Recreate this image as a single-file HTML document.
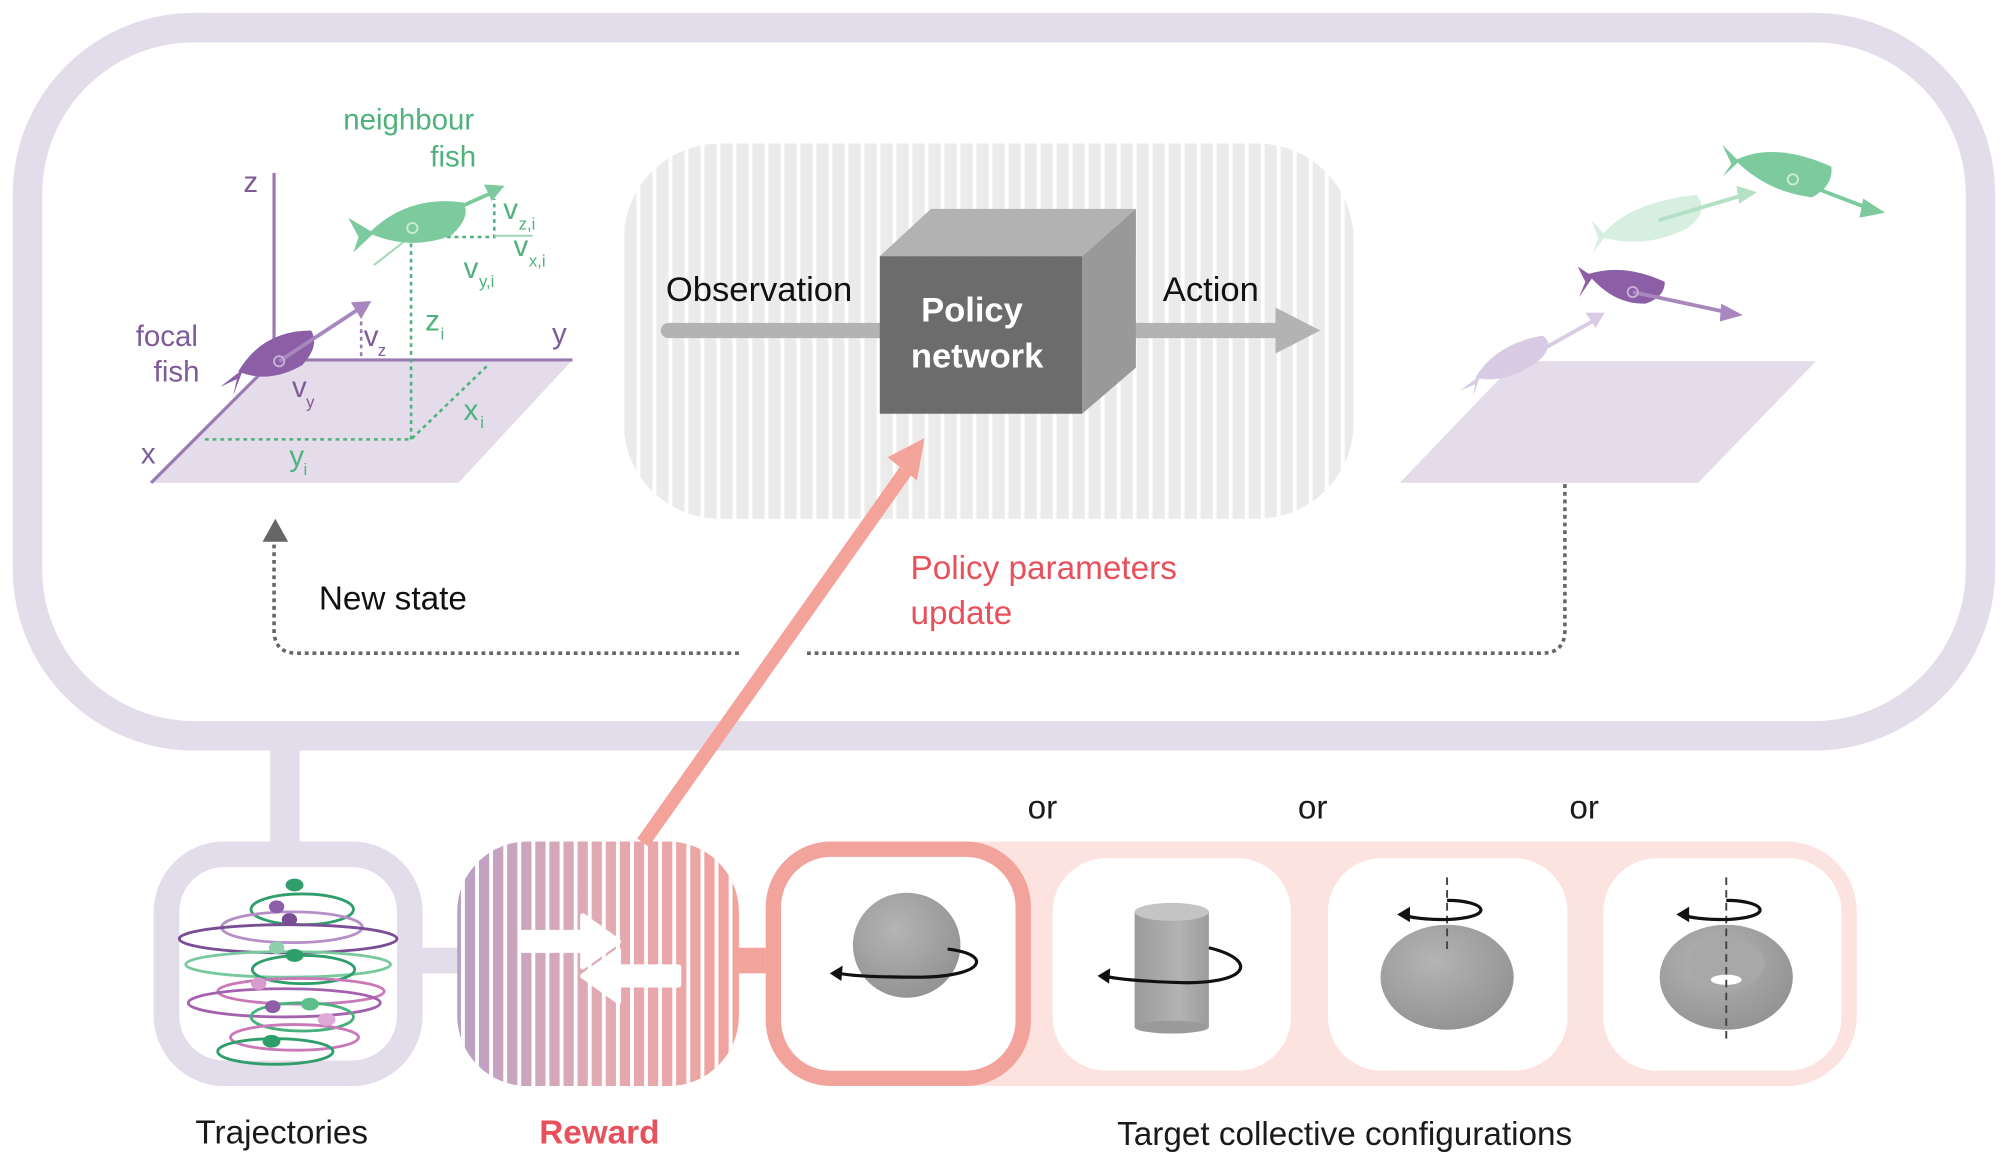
<!DOCTYPE html>
<html><head><meta charset="utf-8"><style>
html,body{margin:0;padding:0;background:#fff;}
svg{display:block;}
text{font-family:"Liberation Sans",sans-serif;}
</style></head><body>
<svg width="2008" height="1163" viewBox="0 0 1568 908" xmlns="http://www.w3.org/2000/svg">
<defs>
  <pattern id="gs" width="12.5" height="10" patternUnits="userSpaceOnUse">
    <rect width="12.5" height="10" fill="#ebebeb"/>
    <rect x="9.5" width="3" height="10" fill="#fff"/>
  </pattern>
  <pattern id="ws" width="11" height="10" patternUnits="userSpaceOnUse">
    <rect x="8" width="3" height="10" fill="#fff"/>
  </pattern>
  <linearGradient id="rg" x1="0" x2="1" y1="0" y2="0">
    <stop offset="0" stop-color="#b9a0c4"/>
    <stop offset="0.5" stop-color="#e1aab3"/>
    <stop offset="1" stop-color="#f2a39d"/>
  </linearGradient>
  <radialGradient id="sg" cx="0.4" cy="0.35" r="0.7">
    <stop offset="0" stop-color="#b4b4b4"/><stop offset="1" stop-color="#929292"/>
  </radialGradient>
  <linearGradient id="cg" x1="0" x2="1">
    <stop offset="0" stop-color="#9a9a9a"/><stop offset="0.6" stop-color="#b3b3b3"/><stop offset="1" stop-color="#9c9c9c"/>
  </linearGradient>
</defs>

<rect x="21.5" y="21.5" width="1525" height="553" rx="130" fill="#fff" stroke="#e3dcea" stroke-width="23"/>
<rect x="211" y="585" width="23" height="75" fill="#e3dcea"/>
<rect x="330" y="740" width="30" height="20" fill="#e3dcea"/>
<rect x="576" y="740" width="26" height="20" fill="#f2a39c"/>

<rect x="130" y="667" width="190" height="171" rx="45" fill="#fff" stroke="#e3dcea" stroke-width="20"/>
<g fill="none" stroke-width="2.2">
  <ellipse cx="236" cy="710" rx="40" ry="12" stroke="#2e9e6b"/>
  <ellipse cx="228" cy="724" rx="55" ry="12" stroke="#b68fc8"/>
  <ellipse cx="225" cy="733" rx="85" ry="11" stroke="#7a4e95"/>
  <ellipse cx="225" cy="753" rx="80" ry="10" stroke="#78c99e"/>
  <ellipse cx="237" cy="757" rx="40" ry="11" stroke="#2e9e6b"/>
  <ellipse cx="235" cy="774" rx="65" ry="10" stroke="#c978b8"/>
  <ellipse cx="222" cy="783" rx="75" ry="11" stroke="#a461ae"/>
  <ellipse cx="236" cy="794" rx="40" ry="11" stroke="#47b07c"/>
  <ellipse cx="230" cy="810" rx="50" ry="10" stroke="#c978b8"/>
  <ellipse cx="215" cy="821" rx="45" ry="10" stroke="#2e9e6b"/>
</g>
<g>
  <ellipse cx="230" cy="691" rx="7" ry="5" fill="#2e9e6b"/>
  <ellipse cx="216" cy="708" rx="6" ry="5" fill="#8b5ea6"/>
  <ellipse cx="226" cy="718" rx="6" ry="5" fill="#7a4e95"/>
  <ellipse cx="216" cy="740" rx="6" ry="5" fill="#8fd0ac"/>
  <ellipse cx="230" cy="746" rx="7" ry="5" fill="#2e9e6b"/>
  <ellipse cx="202" cy="768" rx="6" ry="5" fill="#d79ccd"/>
  <ellipse cx="213" cy="786" rx="6" ry="5" fill="#8b5ea6"/>
  <ellipse cx="242" cy="784" rx="7" ry="5" fill="#5fbf8c"/>
  <ellipse cx="255" cy="796" rx="7" ry="5" fill="#e0a8d6"/>
  <ellipse cx="212" cy="813" rx="7" ry="5" fill="#2e9e6b"/>
</g>

<rect x="357" y="657" width="220" height="191" rx="55" fill="url(#rg)"/>
<rect x="357" y="657" width="220" height="191" rx="55" fill="url(#ws)"/>
<path d="M408,728 H455 V715 L483,735 L455,755 V742 H408 Z" fill="#fff" stroke="#fff" stroke-linejoin="round" stroke-width="4"/>
<path d="M530,755 H483 V742 L455,762 L483,782 V769 H530 Z" fill="#fff" stroke="#fff" stroke-linejoin="round" stroke-width="4"/>

<rect x="598" y="657" width="852" height="191" rx="55" fill="#fde3e0"/>
<rect x="604" y="663" width="195" height="179" rx="45" fill="#fff" stroke="#f2a39c" stroke-width="12"/>
<rect x="822" y="670" width="186" height="166" rx="42" fill="#fff"/>
<rect x="1037" y="670" width="187" height="166" rx="42" fill="#fff"/>
<rect x="1252" y="670" width="186" height="166" rx="42" fill="#fff"/>
<ellipse cx="708" cy="738" rx="42" ry="41" fill="url(#sg)"/>
<path d="M740,741 C775,745 770,762 720,763 C690,763 660,762 652,759" fill="none" stroke="#111" stroke-width="2.5"/>
<path d="M648,760 L658,754 L657,766 Z" fill="#111"/>
<rect x="886" y="712" width="58" height="90" fill="url(#cg)"/>
<ellipse cx="915" cy="712" rx="29" ry="7" fill="#c4c4c4"/>
<ellipse cx="915" cy="802" rx="29" ry="5" fill="#9a9a9a"/>
<path d="M944,740 C985,750 975,770 915,767 C890,766 870,764 862,762" fill="none" stroke="#111" stroke-width="2.5"/>
<path d="M857,762 L867,756 L866,768 Z" fill="#111"/>
<ellipse cx="1130" cy="763" rx="52" ry="41" fill="url(#sg)"/>
<line x1="1130" y1="685" x2="1130" y2="745" stroke="#444" stroke-width="1.5" stroke-dasharray="6,4"/>
<path d="M1130,703 C1160,703 1170,716 1130,718 C1110,718 1100,716 1095,714" fill="none" stroke="#111" stroke-width="2.5"/>
<path d="M1091,714 L1101,708 L1101,720 Z" fill="#111"/>
<ellipse cx="1348" cy="763" rx="52" ry="41" fill="url(#sg)"/>
<ellipse cx="1348" cy="752" rx="30" ry="20" fill="#a8a8a8"/>
<ellipse cx="1348" cy="765" rx="12" ry="4" fill="#fff"/>
<line x1="1348" y1="685" x2="1348" y2="815" stroke="#444" stroke-width="1.5" stroke-dasharray="6,4"/>
<path d="M1348,703 C1378,703 1388,716 1348,718 C1328,718 1318,716 1313,714" fill="none" stroke="#111" stroke-width="2.5"/>
<path d="M1309,714 L1319,708 L1319,720 Z" fill="#111"/>

<g font-size="26" fill="#1a1a1a">
  <text x="814" y="639" text-anchor="middle">or</text>
  <text x="1025" y="639" text-anchor="middle">or</text>
  <text x="1237" y="639" text-anchor="middle">or</text>
  <text x="220" y="893" text-anchor="middle">Trajectories</text>
  <text x="1050" y="894" text-anchor="middle">Target collective configurations</text>
</g>
<text x="468" y="893" text-anchor="middle" font-size="26" font-weight="bold" fill="#e8505b">Reward</text>

<rect x="487" y="112" width="570" height="293" rx="75" fill="url(#gs)"/>
<line x1="522" y1="258" x2="690" y2="258" stroke="#b3b3b3" stroke-width="12" stroke-linecap="round"/>
<line x1="862" y1="258" x2="1000" y2="258" stroke="#b3b3b3" stroke-width="12" stroke-linecap="round"/>
<path d="M996,240 L1031,258 L996,276 Z" fill="#b3b3b3"/>
<text x="520" y="235" font-size="27" fill="#111">Observation</text>
<text x="908" y="235" font-size="27" fill="#111">Action</text>
<path d="M687,200 L727,163 L887,163 L845,200 Z" fill="#b2b2b2"/>
<path d="M845,200 L887,163 L887,287 L845,323 Z" fill="#999"/>
<rect x="687" y="200" width="158" height="123" fill="#6c6c6c"/>
<text x="759" y="251" font-size="27" font-weight="bold" fill="#fff" text-anchor="middle">Policy</text>
<text x="763" y="287" font-size="27" font-weight="bold" fill="#fff" text-anchor="middle">network</text>

<path d="M1222,378 V492 Q1222,510 1204,510 H628 M577,510 H232 Q214,510 214,492 V424" fill="none" stroke="#666" stroke-width="2.8" stroke-dasharray="3,3"/>
<path d="M205,423 L215,405 L225,423 Z" fill="#666"/>
<text x="249" y="476" font-size="26" fill="#111">New state</text>

<line x1="502" y1="658" x2="707" y2="368" stroke="#f4a39b" stroke-width="11"/>
<path d="M693,357 L722,342 L716,375 Z" fill="#f4a39b"/>
<text x="711" y="452" font-size="26" fill="#e8505b">Policy parameters</text>
<text x="711" y="487" font-size="26" fill="#e8505b">update</text>

<path d="M118,377 L358,377 L447,281 L212,281 Z" fill="#e4dcea"/>
<line x1="214" y1="135" x2="214" y2="281" stroke="#9a7ab0" stroke-width="2.5"/>
<line x1="214" y1="281" x2="447" y2="281" stroke="#9a7ab0" stroke-width="2.5"/>
<line x1="214" y1="281" x2="118" y2="377" stroke="#9a7ab0" stroke-width="2.5"/>
<g fill="#7e5a98" font-size="23">
  <text x="190" y="150">z</text>
  <text x="431" y="268">y</text>
  <text x="110" y="362">x</text>
  <text x="106" y="270">focal</text>
  <text x="120" y="298">fish</text>
  <text x="228" y="310">v</text><text x="239" y="318" font-size="13">y</text>
  <text x="284" y="270">v</text><text x="295" y="278" font-size="13">z</text>
</g>
<g stroke="#4fb27c" stroke-width="2" stroke-dasharray="3,3" fill="none">
  <path d="M160,343 H321 L380,286"/>
  <path d="M321,343 V185 H386 V155"/>
</g>
<line x1="282" y1="278" x2="282" y2="250" stroke="#9a7ab0" stroke-width="2" stroke-dasharray="3,3"/>
<g fill="#4fb27c" font-size="23">
  <text x="268" y="101">neighbour</text>
  <text x="336" y="130">fish</text>
  <text x="332" y="258">z</text><text x="344" y="265" font-size="13">i</text>
  <text x="362" y="328">x</text><text x="375" y="334" font-size="13">i</text>
  <text x="226" y="364">y</text><text x="237" y="371" font-size="13">i</text>
  <text x="393" y="171">v</text><text x="405" y="179" font-size="13">z,i</text>
  <text x="401" y="200">v</text><text x="413" y="208" font-size="13">x,i</text>
  <text x="362" y="217">v</text><text x="374" y="224" font-size="13">y,i</text>
</g>
<line x1="386" y1="184" x2="416" y2="184" stroke="#9fd6b8" stroke-width="1.5"/>
<line x1="320" y1="185" x2="292" y2="207" stroke="#9fd6b8" stroke-width="1.5"/>
<path d="M288,182 Q318,152 362,158 Q368,170 352,184 Q320,196 288,182 Z" fill="#7cca9e"/>
<path d="M292,182 L272,170 L280,185 L276,197 Z" fill="#7cca9e"/>
<line x1="322" y1="178" x2="385" y2="150" stroke="#7cca9e" stroke-width="3"/>
<path d="M378,144 L394,145 L384,157 Z" fill="#7cca9e"/>
<circle cx="322" cy="178" r="4" fill="none" stroke="#c9ebd7" stroke-width="1.5"/>
<path d="M186,290 Q205,258 243,258 Q250,270 236,285 Q210,300 186,290 Z" fill="#8b5ea6"/>
<path d="M190,288 L172,302 L185,296 L182,309 Z" fill="#8b5ea6"/>
<line x1="218" y1="282" x2="282" y2="240" stroke="#a787bd" stroke-width="3"/>
<path d="M274,236 L290,235 L282,249 Z" fill="#a787bd"/>
<circle cx="218" cy="282" r="4" fill="none" stroke="#c6b0d5" stroke-width="1.5"/>

<path d="M1093,377 L1326,377 L1418,282 L1184,282 Z" fill="#e4dcea"/>
<path d="M1152,295 Q1168,268 1205,262 Q1215,270 1200,283 Q1175,300 1152,295 Z" fill="#d9cbe3"/>
<path d="M1156,293 L1140,305 L1152,300 L1150,310 Z" fill="#d9cbe3"/>
<line x1="1188" y1="282" x2="1245" y2="250" stroke="#d9cbe3" stroke-width="3"/>
<path d="M1238,244 L1253,244 L1246,256 Z" fill="#d9cbe3"/>
<path d="M1240,214 Q1268,205 1300,220 Q1300,232 1285,237 Q1260,238 1240,214 Z" fill="#8b5ea6"/>
<path d="M1244,216 L1232,208 L1238,220 L1233,232 Z" fill="#8b5ea6"/>
<line x1="1275" y1="228" x2="1350" y2="244" stroke="#a787bd" stroke-width="3"/>
<path d="M1344,237 L1361,246 L1343,251 Z" fill="#a787bd"/>
<circle cx="1275" cy="228" r="4" fill="none" stroke="#c6b0d5" stroke-width="1.5"/>
<path d="M1250,185 Q1270,158 1325,152 Q1335,165 1318,178 Q1285,195 1250,185 Z" fill="#d7efe1"/>
<path d="M1254,184 L1243,172 L1248,186 L1244,197 Z" fill="#d7efe1"/>
<line x1="1295" y1="172" x2="1362" y2="152" stroke="#b4e1c6" stroke-width="3"/>
<path d="M1356,145 L1372,150 L1358,159 Z" fill="#b4e1c6"/>
<path d="M1355,125 Q1385,110 1430,130 Q1432,145 1415,154 Q1380,150 1355,125 Z" fill="#7cca9e"/>
<path d="M1358,126 L1345,113 L1352,128 L1345,138 Z" fill="#7cca9e"/>
<line x1="1400" y1="140" x2="1460" y2="163" stroke="#7cca9e" stroke-width="3"/>
<path d="M1455,155 L1472,166 L1452,170 Z" fill="#7cca9e"/>
<circle cx="1400" cy="140" r="4" fill="none" stroke="#c9ebd7" stroke-width="1.5"/>
</svg>
</body></html>
